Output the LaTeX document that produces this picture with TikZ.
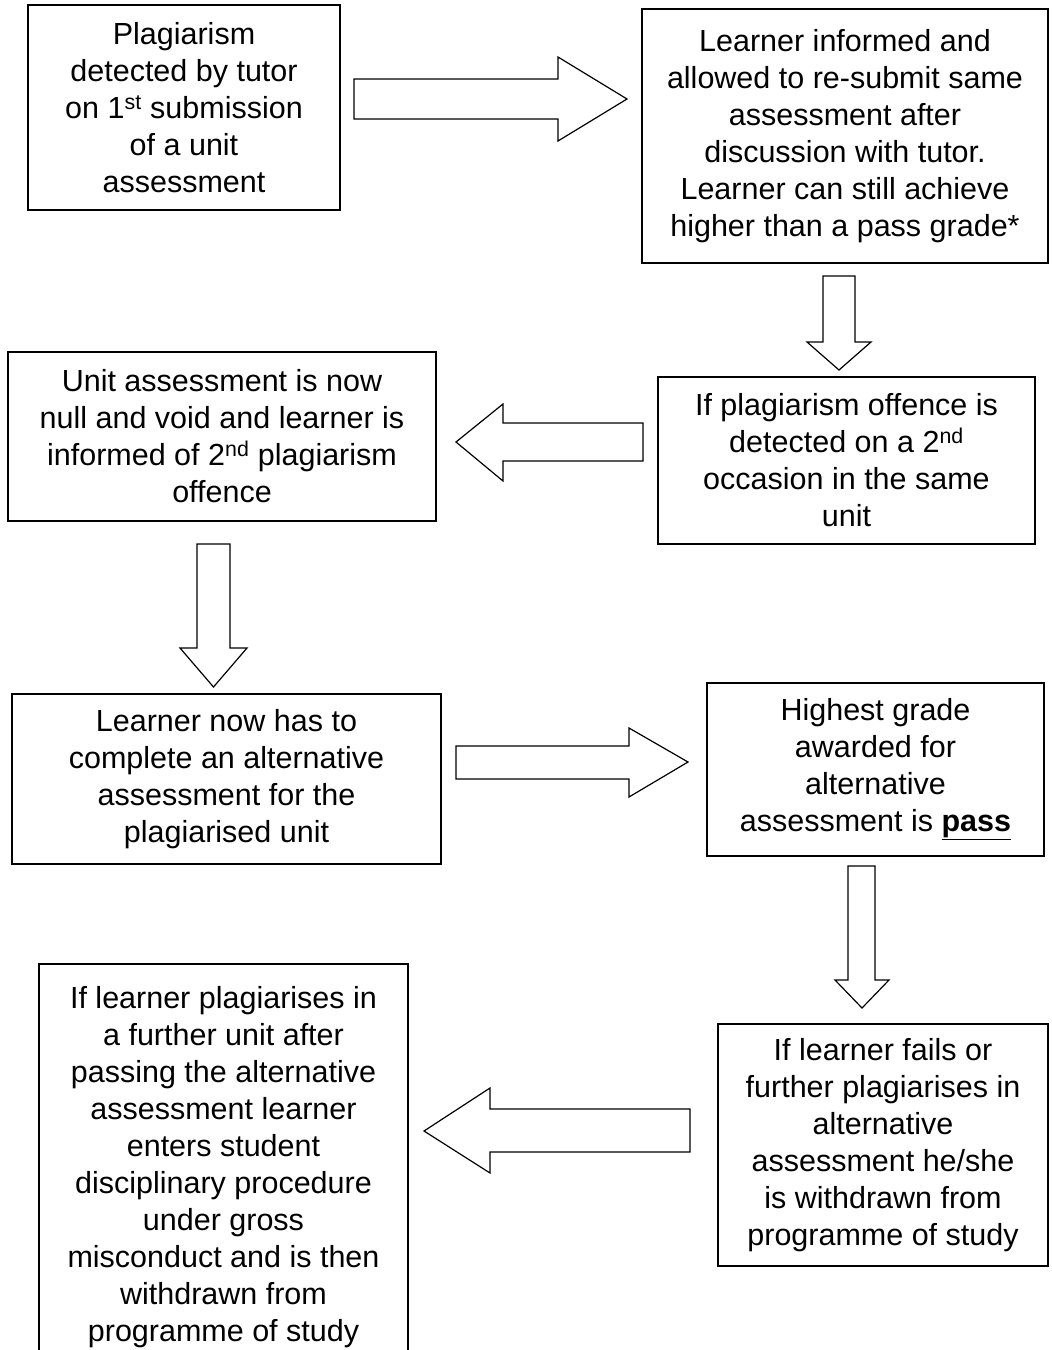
\documentclass[tikz,border=0pt]{standalone}
\usepackage{fontspec}
\setmainfont{Liberation Sans}
\begin{document}
\begin{tikzpicture}[x=1pt,y=-1pt,
  stepbox/.style={draw=black,line width=1.3pt,inner sep=0pt,align=center,
    font=\fontsize{30.5}{37}\selectfont},
  blockarrow/.style={draw=black,fill=white,line width=1.2pt,line join=miter}]
\useasboundingbox (0,0) rectangle (1052,1350);
% boxes
\node[stepbox,minimum width=312pt,minimum height=205pt] (b1) at (184,107.5)
  {Plagiarism\\detected by tutor\\on 1\textsuperscript{st} submission\\of a unit\\assessment};
\node[stepbox,minimum width=406pt,minimum height=254pt] (b2) at (845,136)
  {Learner informed and\\allowed to re-submit same\\assessment after\\discussion with tutor.\\Learner can still achieve\\higher than a pass grade*};
\node[stepbox,minimum width=377pt,minimum height=167pt] (b3) at (846.5,460.5)
  {If plagiarism offence is\\detected on a 2\textsuperscript{nd}\\occasion in the same\\unit};
\node[stepbox,minimum width=428pt,minimum height=169pt] (b4) at (222,436.5)
  {Unit assessment is now\\null and void and learner is\\informed of 2\textsuperscript{nd} plagiarism\\offence};
\node[stepbox,minimum width=429pt,minimum height=170pt] (b5) at (226.5,779)
  {Learner now has to\\complete an alternative\\assessment for the\\plagiarised unit};
\node[stepbox,minimum width=337pt,minimum height=173pt] (b6) at (875.5,769.5)
  {Highest grade\\awarded for\\alternative\\assessment is \underline{\textbf{pass}}};
\node[stepbox,minimum width=330pt,minimum height=242pt] (b7) at (883,1145)
  {If learner fails or\\further plagiarises in\\alternative\\assessment he/she\\is withdrawn from\\programme of study};
\node[stepbox,minimum width=369pt,minimum height=406pt] (b8) at (223.5,1167)
  {If learner plagiarises in\\a further unit after\\passing the alternative\\assessment learner\\enters student\\disciplinary procedure\\under gross\\misconduct and is then\\withdrawn from\\programme of study};
% block arrows
\draw[blockarrow] (354,79) -- (558,79) -- (558,57) -- (627,99) -- (558,141) -- (558,119) -- (354,119) -- cycle;
\draw[blockarrow] (823,276) -- (855,276) -- (855,342) -- (871,342) -- (839,370) -- (807,342) -- (823,342) -- cycle;
\draw[blockarrow] (643,423) -- (503,423) -- (503,404) -- (456,442) -- (503,481) -- (503,461) -- (643,461) -- cycle;
\draw[blockarrow] (197,544) -- (230,544) -- (230,648) -- (247,648) -- (213.5,687) -- (180,648) -- (197,648) -- cycle;
\draw[blockarrow] (456,746) -- (629,746) -- (629,728) -- (688,762) -- (629,797) -- (629,779) -- (456,779) -- cycle;
\draw[blockarrow] (848,866) -- (875,866) -- (875,980) -- (889,980) -- (862,1008) -- (835,980) -- (848,980) -- cycle;
\draw[blockarrow] (690,1109) -- (490,1109) -- (490,1088) -- (424,1131) -- (490,1173) -- (490,1152) -- (690,1152) -- cycle;
\end{tikzpicture}
\end{document}
